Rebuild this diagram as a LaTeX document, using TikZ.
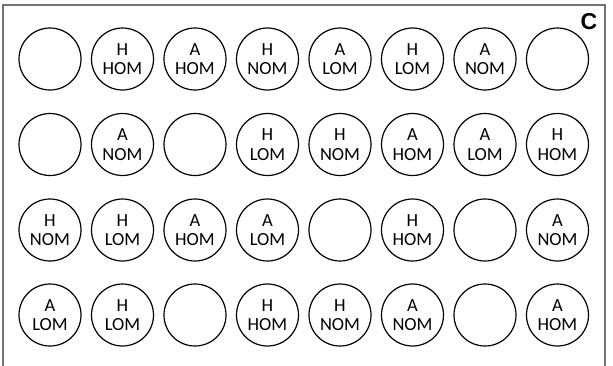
\documentclass[tikz,border=0pt]{standalone}
\usepackage{fontspec}
\setmainfont{Carlito}
\newfontfamily\labelfont{Liberation Sans}
\begin{document}
\begin{tikzpicture}[x=1pt,y=-1pt,
  well/.style={circle,draw,line width=1.2pt,minimum size=62pt,inner sep=0pt,align=center,font=\fontsize{18.5}{19.5}\selectfont},
  frame/.style={draw=black!55,line width=2pt}]
\useasboundingbox (0,0) rectangle (613,365);
\draw[frame] (3,366) -- (3,4.5) -- (605,4.5) -- (605,366);
\node[font=\labelfont\bfseries\fontsize{23}{23}\selectfont] (lbl) at (589,22) {C};
\def\xs{72.5}
\foreach \r/\ry in {1/59,2/144.5,3/230,4/315}{
  \foreach \c in {1,...,8}{
    \coordinate (p\r\c) at ({50+(\c-1)*\xs},\ry);
  }
}
% row 1
\node[well] (w11) at (p11) {};
\node[well] (w12) at (p12) {H\\HOM};
\node[well] (w13) at (p13) {A\\HOM};
\node[well] (w14) at (p14) {H\\NOM};
\node[well] (w15) at (p15) {A\\LOM};
\node[well] (w16) at (p16) {H\\LOM};
\node[well] (w17) at (p17) {A\\NOM};
\node[well] (w18) at (p18) {};
% row 2
\node[well] (w21) at (p21) {};
\node[well] (w22) at (p22) {A\\NOM};
\node[well] (w23) at (p23) {};
\node[well] (w24) at (p24) {H\\LOM};
\node[well] (w25) at (p25) {H\\NOM};
\node[well] (w26) at (p26) {A\\HOM};
\node[well] (w27) at (p27) {A\\LOM};
\node[well] (w28) at (p28) {H\\HOM};
% row 3
\node[well] (w31) at (p31) {H\\NOM};
\node[well] (w32) at (p32) {H\\LOM};
\node[well] (w33) at (p33) {A\\HOM};
\node[well] (w34) at (p34) {A\\LOM};
\node[well] (w35) at (p35) {};
\node[well] (w36) at (p36) {H\\HOM};
\node[well] (w37) at (p37) {};
\node[well] (w38) at (p38) {A\\NOM};
% row 4
\node[well] (w41) at (p41) {A\\LOM};
\node[well] (w42) at (p42) {H\\LOM};
\node[well] (w43) at (p43) {};
\node[well] (w44) at (p44) {H\\HOM};
\node[well] (w45) at (p45) {H\\NOM};
\node[well] (w46) at (p46) {A\\NOM};
\node[well] (w47) at (p47) {};
\node[well] (w48) at (p48) {A\\HOM};
\end{tikzpicture}
\end{document}
